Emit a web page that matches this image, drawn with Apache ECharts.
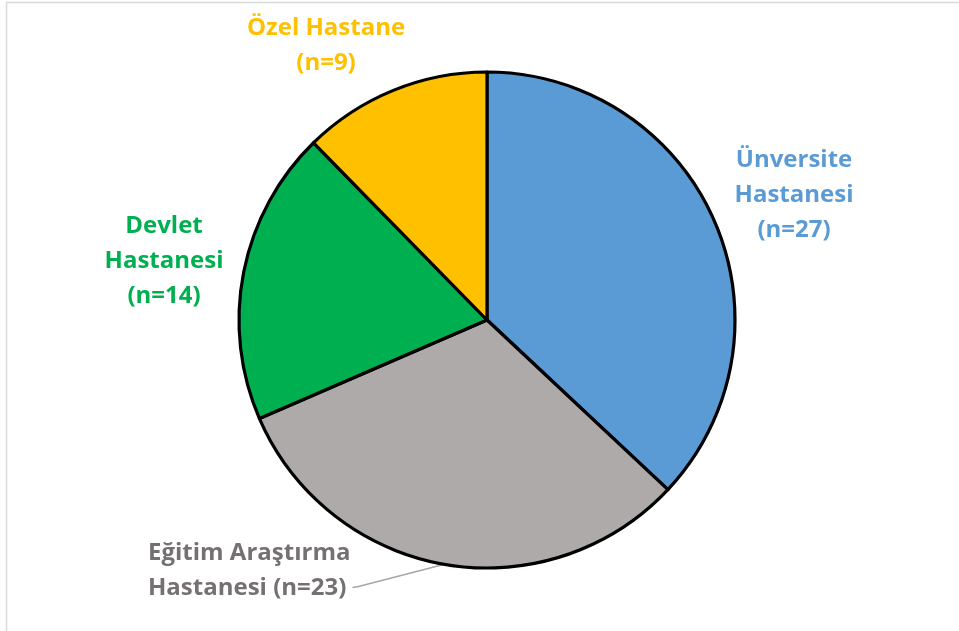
<!DOCTYPE html>
<html>
<head>
<meta charset="utf-8">
<script src="https://cdn.jsdelivr.net/npm/echarts@6/dist/echarts.min.js"></script>
<style>
  html, body { margin: 0; padding: 0; background: #ffffff; }
  #chart { width: 959px; height: 631px; }
</style>
</head>
<body>
<div id="chart"></div>
<script>
// Hospital types and respondent counts
const categories = ['Ünversite\nHastanesi', 'Eğitim Araştırma\nHastanesi', 'Devlet\nHastanesi', 'Özel Hastane'];
const counts = [27, 23, 14, 9];
const countSeparators = ['\n', ' ', '\n', '\n'];
const sliceColors = ['#5B9BD5', '#AEAAAA', '#00B050', '#FFC000'];
const labelColors = ['#5B9BD5', '#767171', '#00B050', '#FFC000'];

// Label placement around the pie
const labelPlacement = [
  { x: 794, y: 195, align: 'center' },
  { x: 148, y: 571, align: 'left' },
  { x: 164, y: 261, align: 'center' },
  { x: 326, y: 46, align: 'center' }
];

const chart = echarts.init(document.getElementById('chart'), null, { renderer: 'canvas' });

const data = categories.map((name, i) => ({
  name: name,
  value: counts[i],
  itemStyle: { color: sliceColors[i] },
  label: { color: labelColors[i], align: labelPlacement[i].align },
  labelLine: { show: i === 1 }
}));

chart.setOption({
  backgroundColor: '#ffffff',
  animation: false,
  graphic: [{
    type: 'rect',
    shape: { x: 6.5, y: 2.5, width: 1000, height: 700 },
    style: { fill: 'none', stroke: '#d9d9d9', lineWidth: 1.5 },
    silent: true
  }],
  series: [{
    type: 'pie',
    center: [487, 320],
    radius: 248,
    startAngle: 90,
    clockwise: true,
    avoidLabelOverlap: false,
    itemStyle: { borderColor: '#000000', borderWidth: 3.2 },
    label: {
      show: true,
      position: 'outside',
      fontFamily: '"Open Sans", sans-serif',
      fontWeight: 'bold',
      fontSize: 24,
      lineHeight: 35,
      formatter: p => p.name + countSeparators[p.dataIndex] + '(n=' + p.value + ')'
    },
    labelLine: {
      show: true,
      length: 10,
      length2: 10,
      lineStyle: { color: '#A6A6A6', width: 1.5 }
    },
    labelLayout: p => {
      const place = labelPlacement[p.dataIndex];
      const layout = { x: place.x, y: place.y, align: place.align, verticalAlign: 'middle' };
      if (p.labelLinePoints && p.labelRect && place.align === 'left') {
        // connector runs from the arc to the end of the label's last line
        const start = p.labelLinePoints[0];
        const endX = place.x + p.labelRect.width + 2;
        const endY = place.y + p.labelRect.height / 4 - 1;
        layout.labelLinePoints = [start, [endX + 6, endY - 1], [endX, endY]];
      }
      return layout;
    },
    emphasis: { disabled: true },
    data: data
  }]
});
</script>
</body>
</html>
